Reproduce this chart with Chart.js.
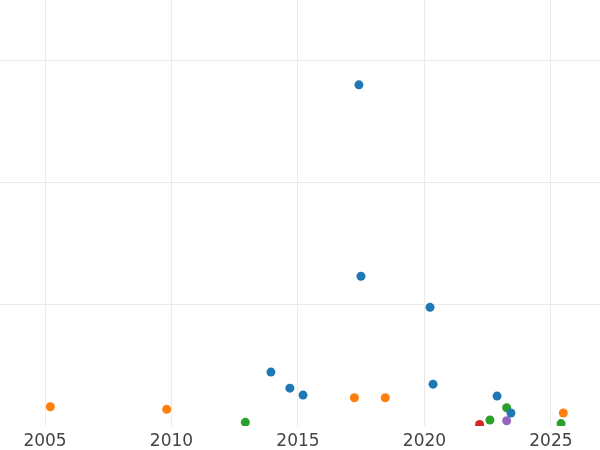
<!DOCTYPE html>
<html>
<head>
<meta charset="utf-8">
<script src="https://cdn.jsdelivr.net/npm/chart.js@4/dist/chart.umd.min.js"></script>
<style>
    html, body { margin: 0; padding: 0; background: #fff; }
    #wrap { width: 600px; height: 450px; }
</style>
</head>
<body>
<div id="wrap"><canvas id="chartScatter"></canvas></div>
<script>
// --- Datos ---
const blueX   = [2017.41, 2017.49, 2020.22, 2013.93, 2014.68, 2015.20, 2020.34, 2022.87, 2023.42];
const blueY   = [280.3, 123.0, 97.5, 44.3, 31.1, 25.4, 34.4, 24.6, 10.7];
const orangeX = [2005.21, 2009.81, 2017.23, 2018.45, 2025.49];
const orangeY = [15.8, 13.7, 23.2, 23.2, 10.7];
const greenX  = [2012.92, 2022.59, 2023.25, 2025.40];
const greenY  = [3.0, 4.9, 15.0, 2.0];
const redX    = [2022.18];
const redY    = [1.2];
const purpleX = [2023.25];
const purpleY = [4.3];

const xTicks = [2005, 2010, 2015, 2020, 2025];
const yTicks = [0, 100, 200, 300];

function toPoints(xs, ys) {
    return xs.map((x, i) => ({ x: x, y: ys[i] }));
}

function makeSet(label, xs, ys, color) {
    return {
        label: label,
        data: toPoints(xs, ys),
        backgroundColor: color,
        borderWidth: 0,
        pointRadius: 4.5,
        clip: 0
    };
}

new Chart(document.getElementById('chartScatter'), {
    type: 'scatter',
    data: {
        datasets: [
            makeSet('A', blueX, blueY, '#1f77b4'),
            makeSet('B', orangeX, orangeY, '#ff7f0e'),
            makeSet('C', greenX, greenY, '#2ca02c'),
            makeSet('D', redX, redY, '#d62728'),
            makeSet('E', purpleX, purpleY, '#9467bd')
        ]
    },
    options: {
        responsive: true,
        maintainAspectRatio: false,
        animation: false,
        layout: { padding: { top: 0, left: 0, right: 0, bottom: -7 }, autoPadding: false },
        plugins: {
            legend: { display: false },
            tooltip: { enabled: false }
        },
        scales: {
            x: {
                type: 'linear',
                min: 2003.22,
                max: 2026.94,
                afterBuildTicks: (axis) => { axis.ticks = xTicks.map(v => ({ value: v })); },
                grid: { color: '#ebebeb', lineWidth: 1, drawTicks: false },
                border: { display: false },
                ticks: {
                    padding: 7,
                    maxRotation: 0,
                    color: '#444',
                    font: { family: 'DejaVu Sans', size: 17, lineHeight: 1.0 },
                    callback: (value) => String(value)
                }
            },
            y: {
                min: 0,
                max: 350,
                afterBuildTicks: (axis) => { axis.ticks = yTicks.map(v => ({ value: v })); },
                grid: {
                    color: (ctx) => ctx.tick && ctx.tick.value === 0 ? 'rgba(0,0,0,0)' : '#ebebeb',
                    lineWidth: 1,
                    drawTicks: false
                },
                border: { display: false },
                ticks: { display: false }
            }
        }
    }
});
</script>
</body>
</html>
